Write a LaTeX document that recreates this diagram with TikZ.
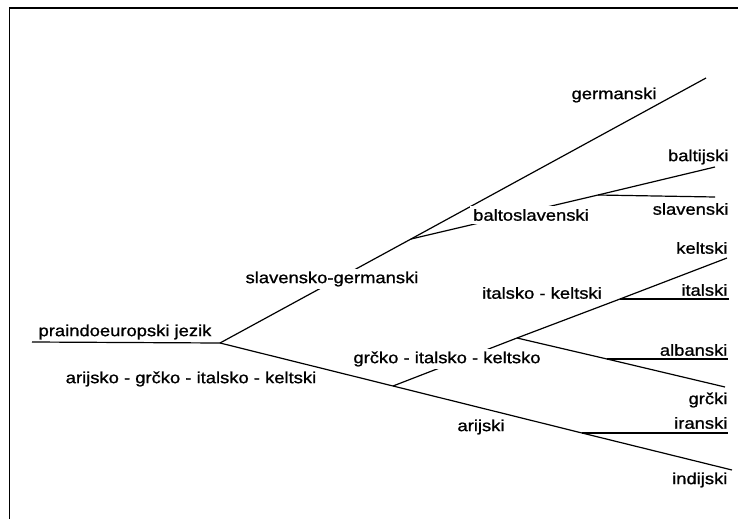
\documentclass[tikz,border=0pt]{standalone}
\usepackage{fontspec}
\setmainfont{Liberation Sans}[FakeStretch=1.15, FakeBold=1]
\begin{document}
\begin{tikzpicture}[x=1pt, y=-1pt, line width=1.2pt, font=\fontsize{16}{18}\selectfont,
    mid/.style={fill=white, inner sep=3pt},
    leaf/.style={anchor=east, inner sep=0pt}]
    \useasboundingbox (0,0) rectangle (738,519);
    \draw[line width=1.5pt] (9.5,519) -- (9.5,8) -- (738,8);

    \coordinate (start) at (32,342);
    \coordinate (root)  at (220,343);
    \coordinate (bs)    at (411,239);
    \coordinate (germ)  at (706,78);
    \coordinate (bsj)   at (598,195);
    \coordinate (balt)  at (715,167);
    \coordinate (slav)  at (715,197);
    \coordinate (gik)   at (393,386);
    \coordinate (kelt)  at (727,258);
    \coordinate (ik)    at (517,338);
    \coordinate (itj)   at (620,299);
    \coordinate (ital)  at (729,299);
    \coordinate (grc)   at (725,387);
    \coordinate (albj)  at (607,359);
    \coordinate (alb)   at (728,359);
    \coordinate (irj)   at (582,433);
    \coordinate (ir)    at (728,433);
    \coordinate (ind)   at (732,470);

    \draw (start) -- (root);
    \draw (root) -- (bs) -- (germ);
    \draw (bs) -- (bsj) -- (balt);
    \draw (bsj) -- (slav);
    \draw (root) -- (gik) -- (irj) -- (ind);
    \draw (gik) -- (ik) -- (itj) -- (kelt);
    \draw (itj) -- (ital);
    \draw (ik) -- (albj) -- (grc);
    \draw (albj) -- (alb);
    \draw (irj) -- (ir);

    \node (pie)  at (125,332) {praindoeuropski jezik};
    \node (agik) at (191,379) {arijsko - grčko - italsko - keltski};
    \node[mid] (sg)   at (332,279) {slavensko-germanski};
    \node[mid] (bsl)  at (531,215) {baltoslavenski};
    \node[mid] (gikl) at (447,359) {grčko - italsko - keltsko};
    \node (ikl)  at (542,293) {italsko - keltski};
    \node (arl)  at (481,427) {arijski};
    \node (germl) at (614,95) {germanski};
    \node[leaf] (baltl) at (729,157) {baltijski};
    \node[leaf] (slavl) at (729,209) {slavenski};
    \node[leaf] (keltl) at (728,248) {keltski};
    \node[leaf] (itall) at (728,290) {italski};
    \node[leaf] (albl)  at (728,350) {albanski};
    \node[leaf] (grcl)  at (728,400) {grčki};
    \node[leaf] (irl)   at (728,423) {iranski};
    \node[leaf] (indl)  at (728,480) {indijski};
\end{tikzpicture}
\end{document}
